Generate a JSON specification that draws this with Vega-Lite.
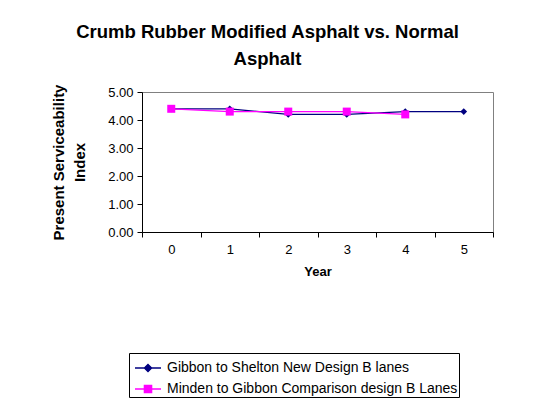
{
  "$schema": "https://vega.github.io/schema/vega-lite/v6.json",
  "autosize": "none",
  "width": 351,
  "height": 140,
  "padding": {"left": 142, "top": 92, "right": 51, "bottom": 171},
  "background": "white",
  "config": {
    "font": "Liberation Sans",
    "view": {"stroke": "#808080", "strokeWidth": 1}
  },
  "title": {
    "text": ["Crumb Rubber Modified Asphalt vs. Normal", "Asphalt"],
    "font": "Liberation Sans",
    "fontSize": 18.5,
    "fontWeight": "bold",
    "color": "black",
    "lineHeight": 27,
    "anchor": "middle",
    "dx": -50,
    "offset": 16
  },
  "data": {
    "values": [
      {"year": "0", "psi": 4.4, "series": "Gibbon to Shelton New Design B lanes"},
      {"year": "1", "psi": 4.4, "series": "Gibbon to Shelton New Design B lanes"},
      {"year": "2", "psi": 4.2, "series": "Gibbon to Shelton New Design B lanes"},
      {"year": "3", "psi": 4.2, "series": "Gibbon to Shelton New Design B lanes"},
      {"year": "4", "psi": 4.3, "series": "Gibbon to Shelton New Design B lanes"},
      {"year": "5", "psi": 4.3, "series": "Gibbon to Shelton New Design B lanes"},
      {"year": "0", "psi": 4.4, "series": "Minden to Gibbon Comparison design B Lanes"},
      {"year": "1", "psi": 4.3, "series": "Minden to Gibbon Comparison design B Lanes"},
      {"year": "2", "psi": 4.3, "series": "Minden to Gibbon Comparison design B Lanes"},
      {"year": "3", "psi": 4.3, "series": "Minden to Gibbon Comparison design B Lanes"},
      {"year": "4", "psi": 4.2, "series": "Minden to Gibbon Comparison design B Lanes"}
    ]
  },
  "encoding": {
    "x": {
      "field": "year", "type": "ordinal", "title": "Year",
      "scale": {"type": "band", "paddingInner": 0, "paddingOuter": 0},
      "axis": {
        "labelAngle": 0, "tickBand": "extent", "domainColor": "black", "tickColor": "black",
        "tickSize": 5, "labelFontSize": 13, "labelColor": "black", "labelPadding": 6,
        "titleFontSize": 13, "titleFontWeight": "bold", "titleColor": "black", "titlePadding": 9,
        "grid": false
      }
    },
    "y": {
      "field": "psi", "type": "quantitative",
      "title": ["Present Serviceability", "Index"],
      "scale": {"domain": [0, 5], "nice": false},
      "axis": {
        "values": [0, 1, 2, 3, 4, 5], "format": ".2f", "grid": false,
        "domainColor": "black", "tickColor": "black", "tickSize": 5,
        "labelFontSize": 13, "labelColor": "black", "labelPadding": 4,
        "titleFontSize": 15, "titleFontWeight": "bold", "titleColor": "black",
        "titlePadding": 20, "titleLineHeight": 21
      }
    },
    "color": {
      "field": "series", "type": "nominal",
      "scale": {
        "domain": ["Gibbon to Shelton New Design B lanes", "Minden to Gibbon Comparison design B Lanes"],
        "range": ["#000080", "#FF00FF"]
      },
      "legend": {
        "title": null, "orient": "none", "legendX": -13, "legendY": 261,
        "strokeColor": "black", "padding": 1, "labelFontSize": 14, "labelColor": "black",
        "labelLimit": 0, "rowPadding": -3, "symbolSize": 676, "symbolOffset": 4, "labelOffset": 5, "symbolStrokeWidth": 1.3,
        "symbolType": "M-1,0H1M0,-0.28L0.28,0L0,0.28L-0.28,0Z",
        "encode": {
          "symbols": {
            "update": {
              "shape": {"signal": "datum.value === 'Gibbon to Shelton New Design B lanes' ? 'M-1,0H1M0,-0.28L0.28,0L0,0.28L-0.28,0Z' : 'M-1,0H1M-0.28,-0.28H0.28V0.28H-0.28Z'"},
              "fill": {"scale": "color", "field": "value"},
              "stroke": {"scale": "color", "field": "value"},
              "fillOpacity": {"value": 1},
              "strokeWidth": {"value": 1.3}
            }
          }
        }
      }
    }
  },
  "layer": [
    {"mark": {"type": "line", "strokeWidth": 1.3}},
    {
      "transform": [{"filter": "datum.series === 'Gibbon to Shelton New Design B lanes'"}],
      "mark": {"type": "point", "filled": true, "opacity": 1, "shape": "diamond", "size": 45}
    },
    {
      "transform": [{"filter": "datum.series === 'Minden to Gibbon Comparison design B Lanes'"}],
      "mark": {"type": "point", "filled": true, "opacity": 1, "shape": "square", "size": 64}
    }
  ]
}
